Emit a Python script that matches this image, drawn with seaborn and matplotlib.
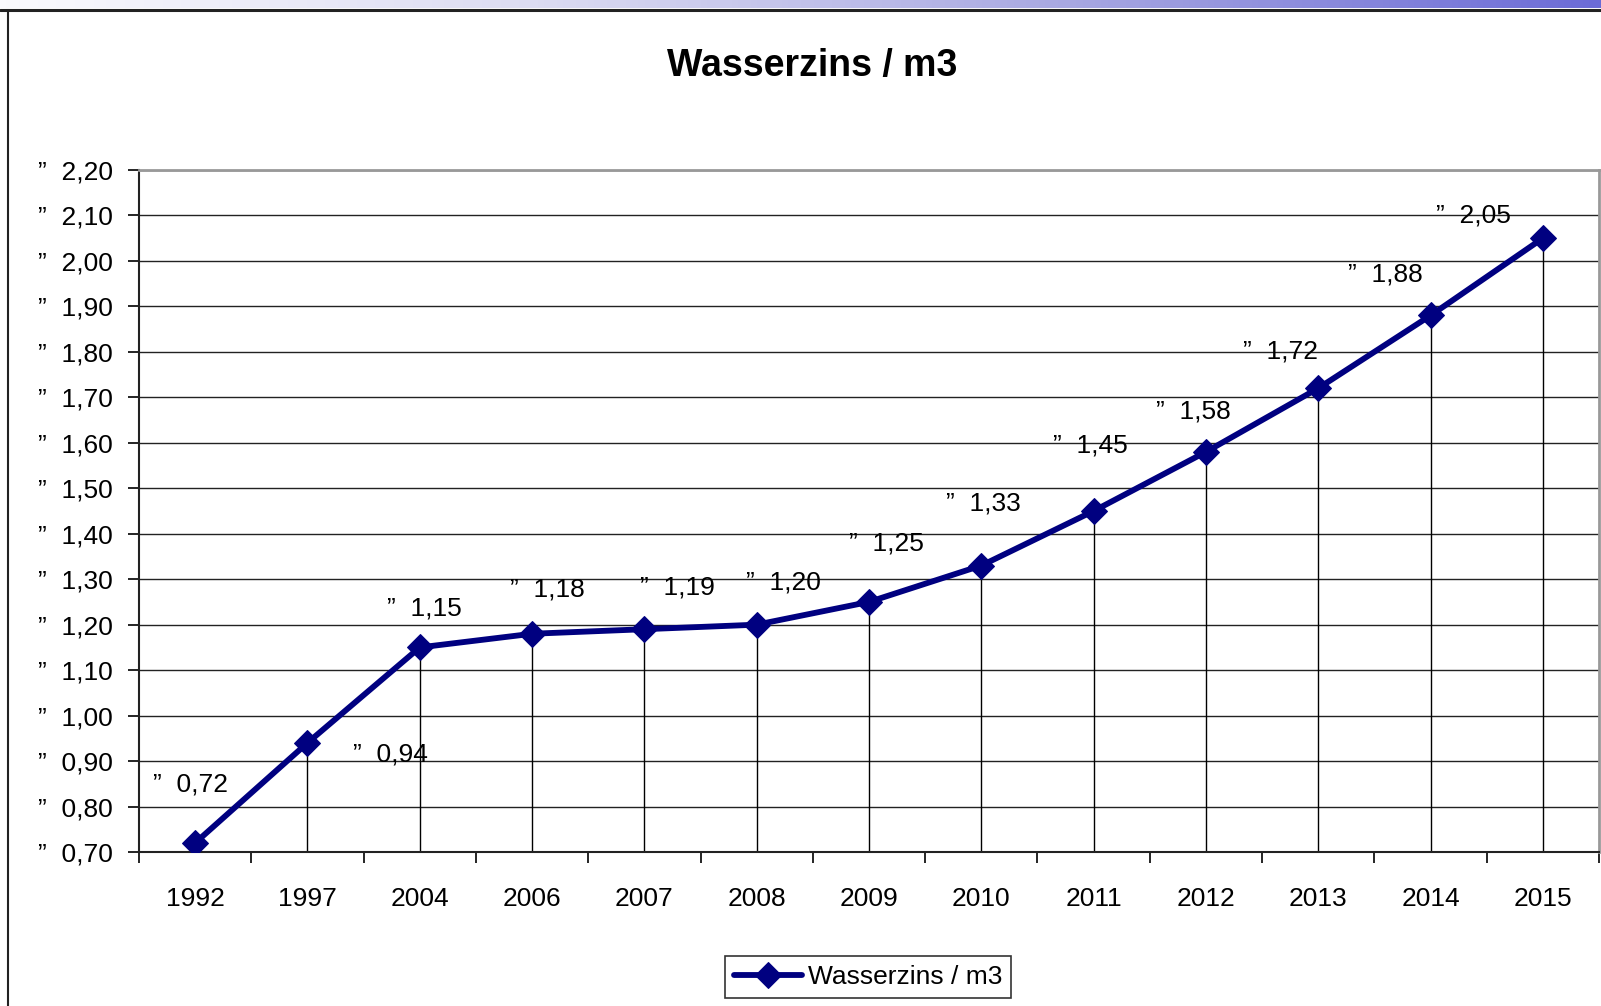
import numpy as np
import pandas as pd
import matplotlib
matplotlib.use("Agg")
import matplotlib.pyplot as plt
import seaborn as sns
from matplotlib.colors import LinearSegmentedColormap
from matplotlib.lines import Line2D

# data
years = ["1992", "1997", "2004", "2006", "2007", "2008", "2009",
         "2010", "2011", "2012", "2013", "2014", "2015"]
price = [0.72, 0.94, 1.15, 1.18, 1.19, 1.20, 1.25,
         1.33, 1.45, 1.58, 1.72, 1.88, 2.05]
y_ticks = [0.70, 0.80, 0.90, 1.00, 1.10, 1.20, 1.30, 1.40,
           1.50, 1.60, 1.70, 1.80, 1.90, 2.00, 2.10, 2.20]
title = "Wasserzins / m3"
series_name = "Wasserzins / m3"

# hand-placed label offsets (pixels), like the dragged Excel labels
label_dx = [-5, 83, 5, 15, 33, 27, 17, 2, -3, -13, -38, -45, -69]
label_dy = [58, -12, 39, 44, 42, 42, 58, 62, 66, 40, 37, 41, 23]

NAVY = "#000080"
FS = 19


def euro(v):
    return "\u201d  " + f"{v:.2f}".replace(".", ",")


sns.set_theme(style="white")
plt.rcParams["font.family"] = ["Liberation Sans", "DejaVu Sans"]
plt.rcParams["text.color"] = "black"
plt.rcParams["xtick.color"] = "black"
plt.rcParams["ytick.color"] = "black"

fig = plt.figure(figsize=(16.01, 10.06), dpi=100)
ax = fig.add_axes([139 / 1601, 1 - 852 / 1006, 1460 / 1601, 682 / 1006])

df = pd.DataFrame({"Jahr": years, "Preis": price})
pos = np.arange(len(years))

# drop lines first so the series sits on top
ax.vlines(pos, y_ticks[0], price, color="black", lw=1, zorder=2)

sns.lineplot(data=df, x="Jahr", y="Preis", ax=ax, color=NAVY, lw=4.2,
             marker="D", markersize=13, markeredgecolor=NAVY,
             label=series_name, zorder=3, sort=False)

for i, v in enumerate(price):
    ax.annotate(euro(v), (pos[i], v), xytext=(label_dx[i], label_dy[i]),
                textcoords="offset pixels", ha="center", va="center",
                fontsize=FS, color="black")

ax.set_xlim(-0.5, len(years) - 0.5)
ax.set_ylim(y_ticks[0], y_ticks[-1])
ax.set_yticks(y_ticks)
ax.set_yticklabels([euro(t) for t in y_ticks])
ax.set_xticks(pos)
ax.set_xticklabels(years)
ax.set_xticks(np.arange(len(years) + 1) - 0.5, minor=True)
ax.tick_params(axis="x", which="major", length=0, pad=25, labelsize=FS)
ax.tick_params(axis="x", which="minor", length=8, width=1.2, color="black",
               direction="out", bottom=True)
ax.tick_params(axis="y", length=8, width=1.2, color="black", direction="out",
               left=True, pad=11, labelsize=FS)
ax.set_xlabel("")
ax.set_ylabel("")

ax.yaxis.grid(True, color="#222222", lw=1)
ax.xaxis.grid(False)
for side in ["left", "bottom"]:
    ax.spines[side].set_color("#222222")
    ax.spines[side].set_linewidth(1.5)
for side in ["top", "right"]:
    ax.spines[side].set_color("#999999")
    ax.spines[side].set_linewidth(2)

fig.text(812 / 1601, 1 - 66 / 1006, title, ha="center", va="center",
         fontsize=27, fontweight="bold", color="black")

leg = ax.legend(loc="center", bbox_to_anchor=(868 / 1601, 1 - 977 / 1006),
                bbox_transform=fig.transFigure, fontsize=FS, frameon=True,
                fancybox=False, edgecolor="black", handlelength=2.6,
                borderpad=0.35, handletextpad=0.2)
leg.get_frame().set_linewidth(1.2)

# slide frame: gradient strip on top, dark border line
grad = LinearSegmentedColormap.from_list(
    "strip", ["#fafafd", "#dcdcf2", "#a8a8e2", "#6b6bd6"])
gax = fig.add_axes([0, 1 - 8 / 1006, 1, 8 / 1006])
gax.imshow(np.linspace(0, 1, 256)[None, :], aspect="auto", cmap=grad)
gax.axis("off")
fig.add_artist(Line2D([0, 1], [1 - 9.5 / 1006] * 2, color="#222222", lw=2.2,
                      transform=fig.transFigure))
fig.add_artist(Line2D([8 / 1601] * 2, [0, 1 - 9.5 / 1006], color="#222222",
                      lw=1.5, transform=fig.transFigure))

fig.savefig("out.png", dpi=100, facecolor="white")
